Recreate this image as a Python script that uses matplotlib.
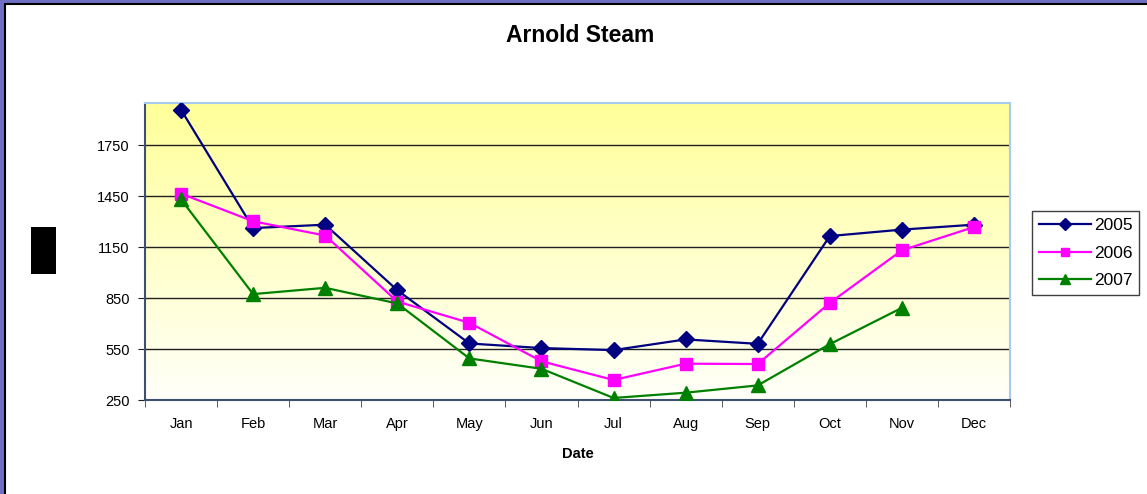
import matplotlib.pyplot as plt
import numpy as np
from matplotlib.patches import Rectangle

plt.rcParams['font.family'] = ['Liberation Sans', 'DejaVu Sans']

months = ["Jan", "Feb", "Mar", "Apr", "May", "Jun", "Jul", "Aug", "Sep", "Oct", "Nov", "Dec"]
steam_2005 = [1960, 1263, 1283, 897, 583, 556, 544, 607, 581, 1216, 1254, 1283]
steam_2006 = [1466, 1303, 1219, 830, 705, 478, 368, 464, 462, 822, 1132, 1269]
steam_2007 = [1432, 874, 911, 819, 495, 434, 262, 293, 336, 579, 793, np.nan]
y_ticks = [250, 550, 850, 1150, 1450, 1750]

W, H = 1147, 494
fig = plt.figure(figsize=(W / 100, H / 100), dpi=100, facecolor="#6f6fc4")

# white chart area on top of the slide background
fig.add_artist(Rectangle((5 / W, -0.05), 1.2, (H - 4) / H + 0.05, transform=fig.transFigure,
                         facecolor="white", edgecolor="black", linewidth=1.5, zorder=0))

ax = fig.add_axes([145 / W, 1 - 400 / H, 865 / W, 297 / H])
ax.set_xlim(-0.5, 11.5)
ax.set_ylim(250, 2000)

# yellow to white gradient of the plot area
grad = np.linspace(0, 1, 256).reshape(-1, 1)
top = np.array([1.0, 1.0, 0.6])
bottom = np.array([1.0, 1.0, 0.98])
img = top + (bottom - top) * grad[:, :, None]
ax.imshow(img, extent=[-0.5, 11.5, 250, 2000], aspect="auto", zorder=0, origin="upper")

ax.set_axisbelow(True)
ax.yaxis.grid(True, color="#202020", linewidth=1.0)

x = np.arange(len(months))
ax.plot(x, steam_2005, color="#000080", linewidth=1.6, marker="D", markersize=8.5, label="2005", zorder=3)
ax.plot(x, steam_2006, color="#FF00FF", linewidth=1.6, marker="s", markersize=8.5, label="2006", zorder=3)
ax.plot(x, steam_2007, color="#008000", linewidth=1.6, marker="^", markersize=10, label="2007", zorder=3)

ax.set_yticks(y_ticks)
ax.set_yticklabels([str(v) for v in y_ticks], fontsize=10.5)
ax.set_xticks(x)
ax.set_xticklabels(months, fontsize=10.5)
ax.set_xticks(np.arange(-0.5, 12, 1), minor=True)
ax.tick_params(axis="x", which="major", length=0, pad=12)
ax.tick_params(axis="x", which="minor", length=5, direction="out", color="#404040")
ax.tick_params(axis="y", length=5, direction="out", color="#202020", pad=6)

ax.spines["left"].set_color("#3f4f6f")
ax.spines["bottom"].set_color("#3f4f6f")
ax.spines["top"].set_color("#a6caf0")
ax.spines["right"].set_color("#a6caf0")
for s in ax.spines.values():
    s.set_linewidth(1.5)

ax.set_xlabel("Date", fontsize=10.5, fontweight="bold", labelpad=12)
fig.text(580 / W, 1 - 36 / H, "Arnold Steam", ha="center", va="center", fontsize=16.5, fontweight="bold")

# y-axis label is a black box in the original
fig.add_artist(Rectangle((31 / W, 1 - 274 / H), 25 / W, 47 / H, transform=fig.transFigure,
                         facecolor="black", edgecolor="none"))

leg = ax.legend(loc="upper left", bbox_to_anchor=(1032 / W, 1 - 211 / H), bbox_transform=fig.transFigure,
                fontsize=12.5, frameon=True, fancybox=False, edgecolor="#404040", framealpha=1,
                handlelength=3.0, handletextpad=0.15, labelspacing=0.72, borderpad=0.4,
                borderaxespad=0, markerscale=0.7)
leg.get_frame().set_linewidth(1.0)

fig.savefig("out.png", dpi=100, facecolor=fig.get_facecolor())
